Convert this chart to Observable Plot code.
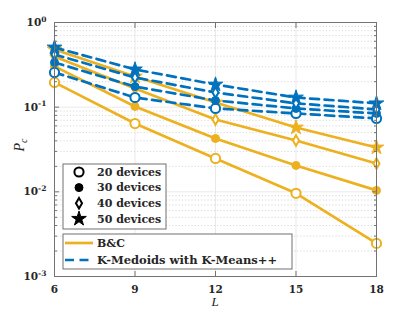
<!DOCTYPE html>
<html><head><meta charset="utf-8">
<script src="https://cdn.jsdelivr.net/npm/d3@7"></script>
<script src="https://cdn.jsdelivr.net/npm/@observablehq/plot@0.6"></script>
<style>
body{margin:0;background:#fff;}
#wrap{position:relative;width:415px;height:312px;}
</style></head><body><div id="wrap"></div>
<script>
const yellow = "#EDB120", blue = "#0072BD";
const Ls = [6, 9, 12, 15, 18];
const deviceNames = ["20 devices", "30 devices", "40 devices", "50 devices"];
const algNames = ["B&C", "K-Medoids with K-Means++"];
// B&C
const bc20 = [0.196, 0.064, 0.0248, 0.0096, 0.00246];
const bc30 = [0.303, 0.102, 0.0427, 0.0205, 0.0104];
const bc40 = [0.397, 0.166, 0.0716, 0.0404, 0.0216];
const bc50 = [0.48, 0.230, 0.1135, 0.0575, 0.0334];
// K-Medoids with K-Means++
const km20 = [0.257, 0.130, 0.0966, 0.0843, 0.0736];
const km30 = [0.337, 0.175, 0.120, 0.0966, 0.0843];
const km40 = [0.419, 0.224, 0.149, 0.111, 0.094];
const km50 = [0.507, 0.279, 0.185, 0.130, 0.111];
const yMajor = [1e-3, 1e-2, 1e-1, 1];
const yMinorMult = [2, 3, 4, 5, 6, 7, 8, 9];

(function () {
const yMinor = [];
for (const d of yMajor.slice(0, 3)) for (const k of yMinorMult) yMinor.push(d * k);

const series = {"B&C": [bc20, bc30, bc40, bc50], "K-Medoids with K-Means++": [km20, km30, km40, km50]};
const rows = [];
for (const alg of algNames) series[alg].forEach((vals, i) => vals.forEach((v, j) => rows.push({alg, dev: deviceNames[i], L: Ls[j], P: v})));

const sym = [
  {symbol: "circle", r: 4.6, open: true},
  {symbol: "circle", r: 4.0, open: false},
  {symbol: "diamond", r: 3.2, open: true},
  {symbol: "star", r: 4.6, open: false}
];
const colorOf = {"B&C": yellow, "K-Medoids with K-Means++": blue};
const noText = () => "";
const tickStroke = "#737373";

const marks = [
  Plot.ruleY(yMinor, {stroke: "#c4c4c4", strokeDasharray: "1,2.2", strokeWidth: 0.8}),
  Plot.ruleY(yMajor.slice(1, 3), {stroke: "#e3e3e3", strokeWidth: 0.8}),
  Plot.ruleX(Ls.slice(1, 4), {stroke: "#e3e3e3", strokeWidth: 0.8})
];
for (const alg of algNames) {
  const data = rows.filter(d => d.alg === alg);
  marks.push(Plot.line(data, {x: "L", y: "P", z: "dev", stroke: colorOf[alg], strokeWidth: 2.7,
    strokeDasharray: alg === "B&C" ? null : "9,5.5"}));
  deviceNames.forEach((dev, i) => {
    const s = sym[i];
    marks.push(Plot.dot(data.filter(d => d.dev === dev), {x: "L", y: "P", symbol: s.symbol, r: s.r,
      fill: s.open ? "white" : colorOf[alg], stroke: colorOf[alg], strokeWidth: s.open ? 2 : 1}));
  });
}
marks.push(
  Plot.axisX({ticks: Ls, tickSize: 0, tickPadding: 9, label: null, fontWeight: "bold"}),
  Plot.axisX({ticks: Ls.slice(1, 4), anchor: "bottom", tickSize: -5, tickFormat: noText, label: null, stroke: tickStroke}),
  Plot.axisX({ticks: Ls.slice(1, 4), anchor: "top", tickSize: -5, tickFormat: noText, label: null, stroke: tickStroke}),
  Plot.axisY({ticks: yMajor, tickSize: 0, tickPadding: 8, label: null, fontWeight: "bold",
    tickFormat: d => String(Math.round(Math.log10(d)))}),
  Plot.axisY({ticks: yMajor, anchor: "left", tickSize: -5, tickFormat: noText, label: null, stroke: tickStroke}),
  Plot.axisY({ticks: yMajor, anchor: "right", tickSize: -5, tickFormat: noText, label: null, stroke: tickStroke}),
  Plot.axisY({ticks: yMinor, anchor: "left", tickSize: -3, tickFormat: noText, label: null, stroke: tickStroke}),
  Plot.axisY({ticks: yMinor, anchor: "right", tickSize: -3, tickFormat: noText, label: null, stroke: tickStroke}),
  Plot.frame({stroke: tickStroke, strokeWidth: 1})
);

const plot = Plot.plot({
  width: 415, height: 312,
  marginLeft: 54, marginRight: 39, marginTop: 22, marginBottom: 36,
  style: {fontFamily: "DejaVu Serif", fontSize: "10.5px", color: "#262626", background: "white"},
  x: {domain: [6, 18]},
  y: {type: "log", domain: [1e-3, 1]},
  marks
});
document.getElementById("wrap").appendChild(plot);

const svg = d3.select(plot);
// drop the empty labels of the tick-only axes
svg.selectAll("text").filter(function () { return this.textContent === ""; }).remove();
svg.selectAll('g[aria-label="y-axis tick label"] text').each(function () {
  const t = d3.select(this);
  const e = t.text();
  if (!e) return;
  t.text("10");
  t.append("tspan").attr("dy", "-0.55em").attr("font-size", "0.72em").text(e);
});

const pL = 54, pR = 415 - 39, pT = 22, pB = 312 - 36;

const yl = svg.append("text").attr("transform", `translate(24,${(pT + pB) / 2 - 4}) rotate(-90)`)
  .attr("text-anchor", "middle").attr("font-family", "Liberation Serif").attr("font-style", "italic")
  .attr("font-size", "14px").attr("fill", "#262626");
yl.append("tspan").text("P");
yl.append("tspan").attr("dy", "0.3em").attr("font-size", "10px").text("c");
svg.append("text").attr("x", (pL + pR) / 2).attr("y", 306).attr("text-anchor", "middle")
  .attr("font-family", "Liberation Serif").attr("font-style", "italic").attr("font-size", "13px")
  .attr("fill", "#262626").text("L");

const lg = svg.append("g").attr("font-family", "DejaVu Serif").attr("font-weight", "bold")
  .attr("font-size", "11px").attr("text-anchor", "start");
lg.append("rect").attr("x", pL + 9).attr("y", 164).attr("width", 103).attr("height", 65)
  .attr("fill", "white").attr("stroke", "#707070");
deviceNames.forEach((dev, i) => {
  const cy = 172 + i * 15.6;
  const s = sym[i];
  const size = Math.PI * s.r * s.r;
  const type = s.symbol === "circle" ? d3.symbolCircle : s.symbol === "diamond" ? d3.symbolDiamond : d3.symbolStar;
  lg.append("path").attr("d", d3.symbol(type, size)()).attr("transform", `translate(${pL + 25},${cy})`)
    .attr("fill", s.open ? "white" : "black").attr("stroke", "black").attr("stroke-width", s.open ? 2 : 1);
  lg.append("text").attr("x", pL + 43).attr("y", cy).attr("dy", "0.35em").attr("fill", "#262626").text(dev);
});
lg.append("rect").attr("x", pL + 9).attr("y", 234).attr("width", 229).attr("height", 35)
  .attr("fill", "white").attr("stroke", "#707070");
algNames.forEach((alg, i) => {
  const cy = 243 + i * 17;
  lg.append("line").attr("x1", pL + 11).attr("x2", pL + 39).attr("y1", cy).attr("y2", cy)
    .attr("stroke", colorOf[alg]).attr("stroke-width", 2.7).attr("stroke-dasharray", i ? "9,5.5" : null);
  lg.append("text").attr("x", pL + 43).attr("y", cy).attr("dy", "0.35em").attr("fill", "#262626")
    .attr("font-size", i ? "11.5px" : null).text(alg);
});
})();
</script></body></html>
